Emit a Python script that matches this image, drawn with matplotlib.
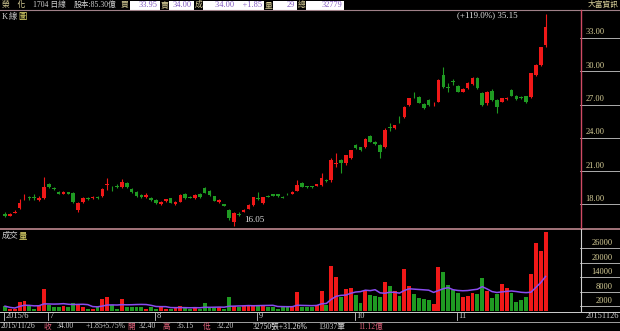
import numpy as np
import pandas as pd
import matplotlib
matplotlib.use("Agg")
import matplotlib.pyplot as plt
from matplotlib.patches import Rectangle
from matplotlib import transforms

plt.rcParams['font.family'] = ['Liberation Serif', 'Noto Sans CJK TC', 'DejaVu Sans']

# daily candles, 2015/6 .. 2015/11/26
opens = [17.15, 17.0, 17.25, 17.7, 18.55, 18.6, 18.62, 18.4, 18.6, 19.8,
         19.45, 19.1, 18.95, 19.1, 19.0, 17.5, 18.2, 18.6, 18.6, 18.62,
         18.8, 19.78, 19.42, 19.7, 19.6, 19.9, 19.4, 19.1, 18.85, 18.7,
         18.6, 18.4, 18.0, 18.3, 18.55, 18.0, 18.25, 18.95, 18.7, 18.55,
         18.95, 19.45, 19.25, 18.75, 18.2, 18.0, 17.5, 16.45, 17.12, 17.35,
         17.6, 17.95, 18.57, 18.1, 18.8, 18.9, 18.9, 18.7, 18.97, 18.95,
         19.25, 19.95, 19.65, 19.65, 19.7, 19.75, 20.2, 20.2, 21.68, 22.0,
         21.7, 22.2, 23.35, 23.15, 23.15, 24.15, 23.65, 23.35, 23.2, 24.97,
         24.85, 25.62, 25.9, 26.95, 27.87, 27.7, 27.05, 27.4, 27.03, 27.25,
         29.65, 28.57, 29.07, 28.7, 28.15, 28.45, 28.85, 29.35, 28.0, 27.1,
         28.25, 27.4, 27.25, 27.5, 28.3, 27.75, 27.67, 27.75, 27.65, 29.7,
         30.6, 32.40]
highs = [17.3, 17.25, 17.5, 18.5, 18.9, 18.8, 18.9, 18.8, 20.5, 19.95,
         19.6, 19.2, 19.2, 19.15, 19.1, 18.2, 18.7, 18.7, 18.75, 18.75,
         19.5, 20.4, 19.7, 19.8, 20.3, 20.0, 19.5, 19.2, 18.9, 19.0,
         18.65, 18.5, 18.3, 18.5, 18.6, 18.3, 18.9, 19.0, 18.75, 18.95,
         19.0, 19.55, 19.3, 18.8, 18.45, 18.05, 17.6, 17.3, 17.3, 17.55,
         18.0, 18.7, 19.15, 18.7, 18.85, 18.95, 18.95, 18.75, 19.05, 19.2,
         20.2, 20.0, 19.7, 19.7, 19.85, 20.8, 20.3, 22.2, 22.6, 22.1,
         22.5, 22.95, 23.45, 23.2, 24.0, 24.3, 23.7, 23.45, 24.9, 25.3,
         25.2, 26.0, 26.9, 27.6, 28.1, 27.8, 27.1, 27.5, 27.2, 29.3,
         30.4, 28.9, 29.3, 28.8, 28.5, 29.0, 29.45, 29.45, 28.1, 28.2,
         28.4, 27.5, 27.6, 27.7, 28.4, 27.85, 27.8, 27.8, 29.85, 30.7,
         32.15, 35.15]
lows = [16.9, 16.95, 17.2, 17.6, 18.4, 18.4, 18.4, 18.3, 18.5, 19.5,
        19.3, 18.9, 18.9, 18.9, 18.1, 17.3, 18.1, 18.4, 18.5, 18.5,
        18.7, 19.3, 19.2, 19.5, 19.5, 19.5, 19.0, 18.7, 18.6, 18.6,
        18.3, 18.0, 17.95, 18.25, 18.1, 17.95, 18.2, 18.5, 18.55, 18.5,
        18.6, 19.0, 18.8, 18.3, 18.1, 17.85, 16.6, 16.05, 17.0, 17.3,
        17.55, 17.9, 18.4, 18.0, 18.65, 18.75, 18.7, 18.55, 18.85, 18.9,
        19.2, 19.55, 19.5, 19.5, 19.65, 19.7, 20.05, 20.0, 21.4, 20.8,
        21.6, 22.1, 23.0, 22.85, 23.1, 23.6, 23.4, 22.2, 23.1, 24.6,
        24.8, 25.3, 25.8, 26.9, 27.6, 27.1, 26.6, 26.9, 26.9, 27.2,
        28.5, 28.1, 28.8, 28.1, 28.1, 28.4, 28.8, 28.4, 26.9, 27.0,
        27.3, 26.2, 27.2, 27.45, 27.75, 27.45, 27.5, 27.15, 27.6, 29.6,
        30.5, 32.20]
closes = [17.0, 17.15, 17.35, 18.1, 18.6, 18.58, 18.6, 18.6, 19.6, 19.6,
          19.35, 18.95, 19.1, 18.95, 18.2, 18.1, 18.6, 18.45, 18.62, 18.6,
          19.4, 19.82, 19.38, 19.55, 20.0, 19.6, 19.1, 18.8, 18.7, 18.85,
          18.4, 18.1, 18.25, 18.45, 18.15, 18.25, 18.85, 18.55, 18.6, 18.85,
          18.65, 19.05, 18.85, 18.35, 18.4, 17.9, 16.8, 17.2, 17.08, 17.5,
          17.95, 18.65, 18.53, 18.65, 18.7, 18.8, 18.75, 18.6, 18.93, 19.15,
          19.75, 19.6, 19.55, 19.55, 19.8, 20.35, 20.1, 22.0, 21.72, 21.7,
          22.45, 22.9, 23.05, 22.9, 23.9, 23.65, 23.45, 22.75, 24.75, 24.93,
          25.15, 25.58, 26.8, 27.55, 27.83, 27.1, 26.65, 26.95, 27.07, 29.2,
          28.6, 28.53, 29.03, 28.15, 28.4, 28.9, 29.35, 28.45, 26.95, 28.15,
          27.4, 26.75, 27.55, 27.6, 27.8, 27.5, 27.63, 27.2, 29.8, 30.55,
          32.15, 34.00]
volumes = [2000, 1000, 700, 3900, 4300, 2000, 1000, 2500, 9100, 2500,
           1500, 1500, 2000, 1500, 3200, 2500, 1500, 1000, 1000, 1500,
           4800, 5700, 2500, 1000, 4800, 1800, 1800, 1800, 1500, 1000,
           1500, 1000, 1800, 1000, 1000, 1500, 2000, 1500, 1000, 1500,
           1000, 3200, 1500, 1500, 1500, 1000, 5900, 2000, 1800, 2000,
           2000, 2500, 2000, 2000, 1800, 1500, 1000, 1500, 1500, 2000,
           8000, 1800, 1500, 1500, 2500, 8400, 2500, 18700, 13900, 5900,
           9000, 9400, 6600, 3200, 8400, 6600, 6200, 5900, 12100, 10300,
           8400, 6200, 17400, 10300, 6900, 5200, 4800, 4500, 2800, 18000,
           16000, 10700, 8700, 7300, 5600, 6200, 7600, 7000, 13500, 8400,
           5200, 7000, 11100, 9400, 7300, 3900, 4500, 5600, 15300, 28000,
           24900, 32750]

month_idx = [0, 9, 31, 52, 72, 93]
month_labels = ['2015/6', '7', '8', '9', '10', '11']
price_ticks = [18, 21, 24, 27, 30, 33]
vol_ticks = [2000, 8000, 14000, 20000, 26000]

W, H = 620, 331
RED = '#f01818'
GREEN = '#1f9a22'
KHAKI = '#d8cf98'
GREY = '#d0d0d0'
PINK = '#e0607a'


def fx(px):
    return px / W


def fy(px):
    return 1 - px / H


fig = plt.figure(figsize=(W / 100, H / 100), dpi=100, facecolor='black')

# main K-line panel
ax = fig.add_axes([0, fy(228), fx(580), (228 - 10) / H], facecolor='black')
axv = fig.add_axes([0, fy(311), fx(580), (311 - 229) / H], facecolor='black')
axr = fig.add_axes([fx(580), fy(228), fx(40), (228 - 10) / H], facecolor='black')
axvr = fig.add_axes([fx(580), fy(311), fx(40), (311 - 229) / H], facecolor='black')
for a in (ax, axv, axr, axvr):
    for s in a.spines.values():
        s.set_visible(False)
    a.set_xticks([])
    a.set_yticks([])

o = np.array(opens)
h = np.array(highs)
l = np.array(lows)
c = np.array(closes)
x = np.arange(len(c))
col = np.where(c > o, RED, GREEN)

ax.vlines(x, l, h, colors=col, lw=0.8)
ax.bar(x, np.maximum(np.abs(c - o), 0.05), bottom=np.minimum(o, c),
       width=0.74, color=col, linewidth=0)
ax.set_xlim(-1.03, 118.07)
ax.set_ylim(15.88, 35.52)
axr.set_ylim(15.88, 35.52)
axr.set_xlim(0, 1)

hi = int(np.argmax(h))
lo = int(np.argmin(l))
ax.annotate('(+119.0%%) %.2f' % h[hi], (hi, h[hi]), xytext=(-28, -1),
            textcoords='offset pixels', ha='right', va='center',
            color='#e0e0e0', fontsize=6.5)
ax.annotate('%.2f' % l[lo], (lo, l[lo]), xytext=(10, 6),
            textcoords='offset pixels', ha='left', va='center',
            color='#e0e0e0', fontsize=6.5)

for t in price_ticks:
    axr.axhline(t, color='#c8c8c8', lw=0.6)
    axr.text(0.13, t + 0.15, '%.2f' % t, ha='left', va='bottom',
             color=KHAKI, fontsize=6)

# volume panel
axv.bar(x, volumes, width=0.8, color=col, linewidth=0)
ma = pd.Series(volumes).rolling(10, min_periods=1).mean()
axv.plot(x, ma, color='#8a4cf0', lw=1.1)
axv.set_xlim(-1.03, 118.07)
axv.set_ylim(0, 33880)
axvr.set_ylim(0, 33880)
axvr.set_xlim(0, 1)
for t in vol_ticks:
    axvr.axhline(t, color='#c8c8c8', lw=0.6)
    axvr.text(0.82, t + 300, str(t), ha='right', va='bottom',
              color=KHAKI, fontsize=6)

# frame lines
fig.add_artist(plt.Line2D([0, 1], [fy(10), fy(10)], color='#a08088', lw=0.8))
fig.add_artist(plt.Line2D([0, 1], [fy(228.5), fy(228.5)], color='#c08890', lw=1.2))
fig.add_artist(plt.Line2D([0, 1], [fy(311.5), fy(311.5)], color='#d0d0d0', lw=0.7))
fig.add_artist(plt.Line2D([0, 1], [fy(321.5), fy(321.5)], color='#a0a0a0', lw=0.7))
fig.add_artist(plt.Line2D([fx(580.5), fx(580.5)], [fy(10), fy(228)], color='#d04a64', lw=1))
fig.add_artist(plt.Line2D([fx(580.5), fx(580.5)], [fy(229), fy(311)], color='#d0d0d0', lw=0.8))

fig.text(fx(2), fy(17), 'K', color=GREY, fontsize=6, va='center')
fig.text(fx(9), fy(17), '線', color=GREY, fontsize=6, va='center')
fig.text(fx(18), fy(17), '圖', color='#e8e070', fontsize=6, va='center')
fig.text(fx(2), fy(236), '成交', color=GREY, fontsize=6, va='center')
fig.text(fx(19), fy(236), '量', color='#e8e070', fontsize=6, va='center')

# date row
tr = transforms.blended_transform_factory(axv.transData, fig.transFigure)
for i, lab in zip(month_idx, month_labels):
    xi = i - 0.2
    fig.add_artist(plt.Line2D([xi, xi], [fy(313), fy(320)], color=GREY,
                              lw=0.6, transform=tr))
    fig.text(xi + 0.35, fy(316.5), lab, transform=tr, color=GREY,
             fontsize=6, va='center', ha='left')
fig.text(fx(619), fy(316.5), '20151126', color=GREY, fontsize=6,
         va='center', ha='right')

# header
hy = fy(5)
header = [(2, '榮　化', KHAKI), (33, '1704 日線', GREY), (74, '股本:85.30億', GREY),
          (121, '買', KHAKI), (161, '賣', KHAKI), (195, '成', KHAKI),
          (265, '量', KHAKI), (298, '總', KHAKI)]
for px, s, cl in header:
    fig.text(fx(px), hy, s, color=cl, fontsize=5.6, va='center')
boxes = [(130, 160, '33.95'), (169, 194, '34.00'), (203, 264, '34.00    +1.85'),
         (273, 297, '29'), (306, 344, '32779')]
for x0, x1, s in boxes:
    fig.add_artist(Rectangle((fx(x0), fy(10)), fx(x1 - x0), 9 / H,
                             facecolor='white', edgecolor='none',
                             transform=fig.transFigure))
    fig.text(fx(x1 - 2), hy, s, color='#8058c0', fontsize=6,
             va='center', ha='right')
fig.text(fx(619), hy, '大富資訊', color=KHAKI, fontsize=5.6, va='center', ha='right')

# bottom info row
by = fy(326.5)
info = [(1, '2015/11/26', GREY), (44, '收', PINK), (57, '34.00', GREY),
        (86, '+1.85', GREY), (102, '+5.75%', GREY), (127, '開', PINK),
        (139, '32.40', GREY), (163, '高', PINK), (177, '35.15', GREY),
        (203, '低', PINK), (217, '32.20', GREY), (253, '32750張+31.26%', '#f0f0f0'),
        (318, '13037筆', GREY), (358, '11.12億', PINK)]
for px, s, cl in info:
    fig.text(fx(px), by, s, color=cl, fontsize=5.5, va='center')

fig.savefig('out.png', dpi=100, facecolor='black')
